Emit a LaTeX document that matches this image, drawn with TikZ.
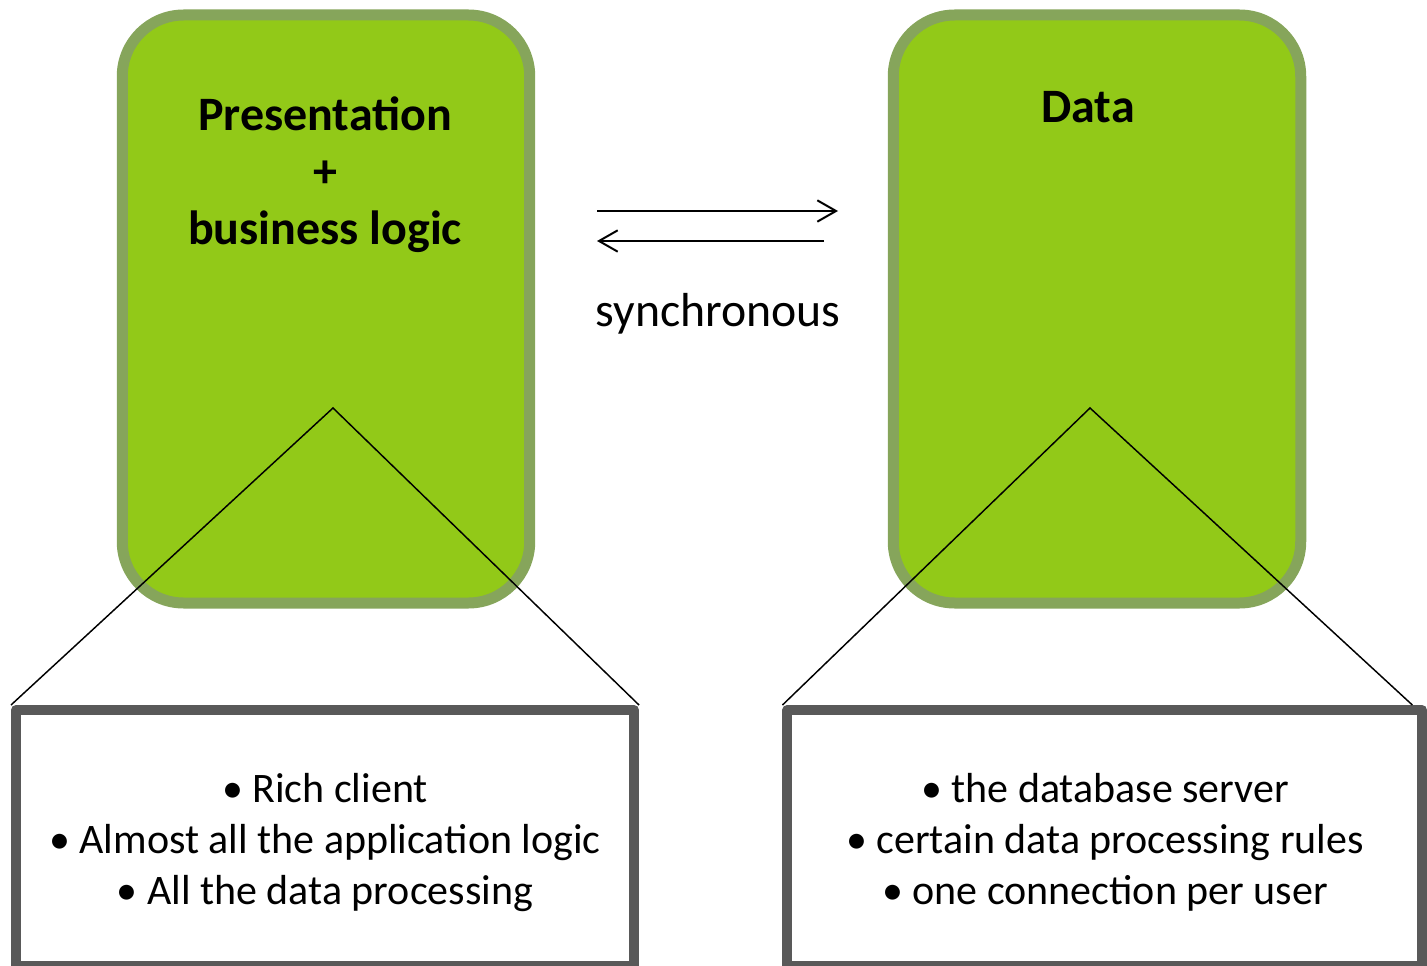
\documentclass[tikz,border=0pt]{standalone}
\usepackage{fontspec}
\setmainfont{Carlito}
\usetikzlibrary{arrows.meta}

\definecolor{tierfill}{HTML}{92C918}
\definecolor{tierrim}{HTML}{86A55B}
\definecolor{notebox}{HTML}{595959}

\tikzset{
  tier/.style={draw=tierrim, fill=tierfill, line width=8.25pt,
    rounded corners=46pt, minimum width=305.6pt, minimum height=441pt,
    inner sep=0pt},
  notes/.style={draw=notebox, fill=white, line width=7.5pt, line join=round,
    inner sep=0pt},
  title/.style={font=\fontsize{36}{43.1}\selectfont\bfseries, align=center,
    anchor=base},
  bullets/.style={font=\fontsize{31.5}{38.25}\selectfont, align=center,
    anchor=base},
  zoomline/.style={draw=black, line width=1.1pt},
  flow/.style={draw=black, line width=1.5pt,
    -{Straight Barb[length=14pt, width=16pt, line width=1.5pt]}}
}

\begin{document}
\begin{tikzpicture}[x=0.75pt, y=-0.75pt]
  \useasboundingbox (0,0) rectangle (1427,966);

  % two tiers
  \node[tier] (client) at (326,309) {};
  \node[tier] (server) at (1097,309) {};

  % the base anchor sits on the last line of a multi-line node
  \node[title] (clienttitle) at (325,245)
    {Presentation\\+\\business logic};
  \node[title] (servertitle) at (1088,123) {Data};

  % request / response arrows
  \coordinate (reqstart) at (597,211);
  \coordinate (reqend)   at (838,211);
  \coordinate (resstart) at (824,241);
  \coordinate (resend)   at (597,241);
  \draw[flow] (reqstart) -- (reqend);
  \draw[flow] (resstart) -- (resend);
  \node[font=\fontsize{35.8}{43}\selectfont, anchor=base] (mode)
    at (718,326) {synchronous};

  % detail boxes
  \node[notes, minimum width=463.5pt, minimum height=192pt] (clientnotes)
    at (325,838) {};
  \node[notes, minimum width=475.9pt, minimum height=192pt] (servernotes)
    at (1104.75,838) {};

  \node[bullets] (clientlist) at (325,904)
    {• Rich client\\• Almost all the application logic\\• All the data processing};
  \node[bullets] (serverlist) at (1105,904)
    {• the database server\\• certain data processing rules\\• one connection per user};

  % zoom-out wedges from each tier to its detail box
  \coordinate (clientapex) at (333,408);
  \coordinate (serverapex) at (1090,408);
  \draw[zoomline] (clientnotes.north west) -- (clientapex) -- (clientnotes.north east);
  \draw[zoomline] (servernotes.north west) -- (serverapex) -- ([xshift=-11pt]servernotes.north east);
\end{tikzpicture}
\end{document}
